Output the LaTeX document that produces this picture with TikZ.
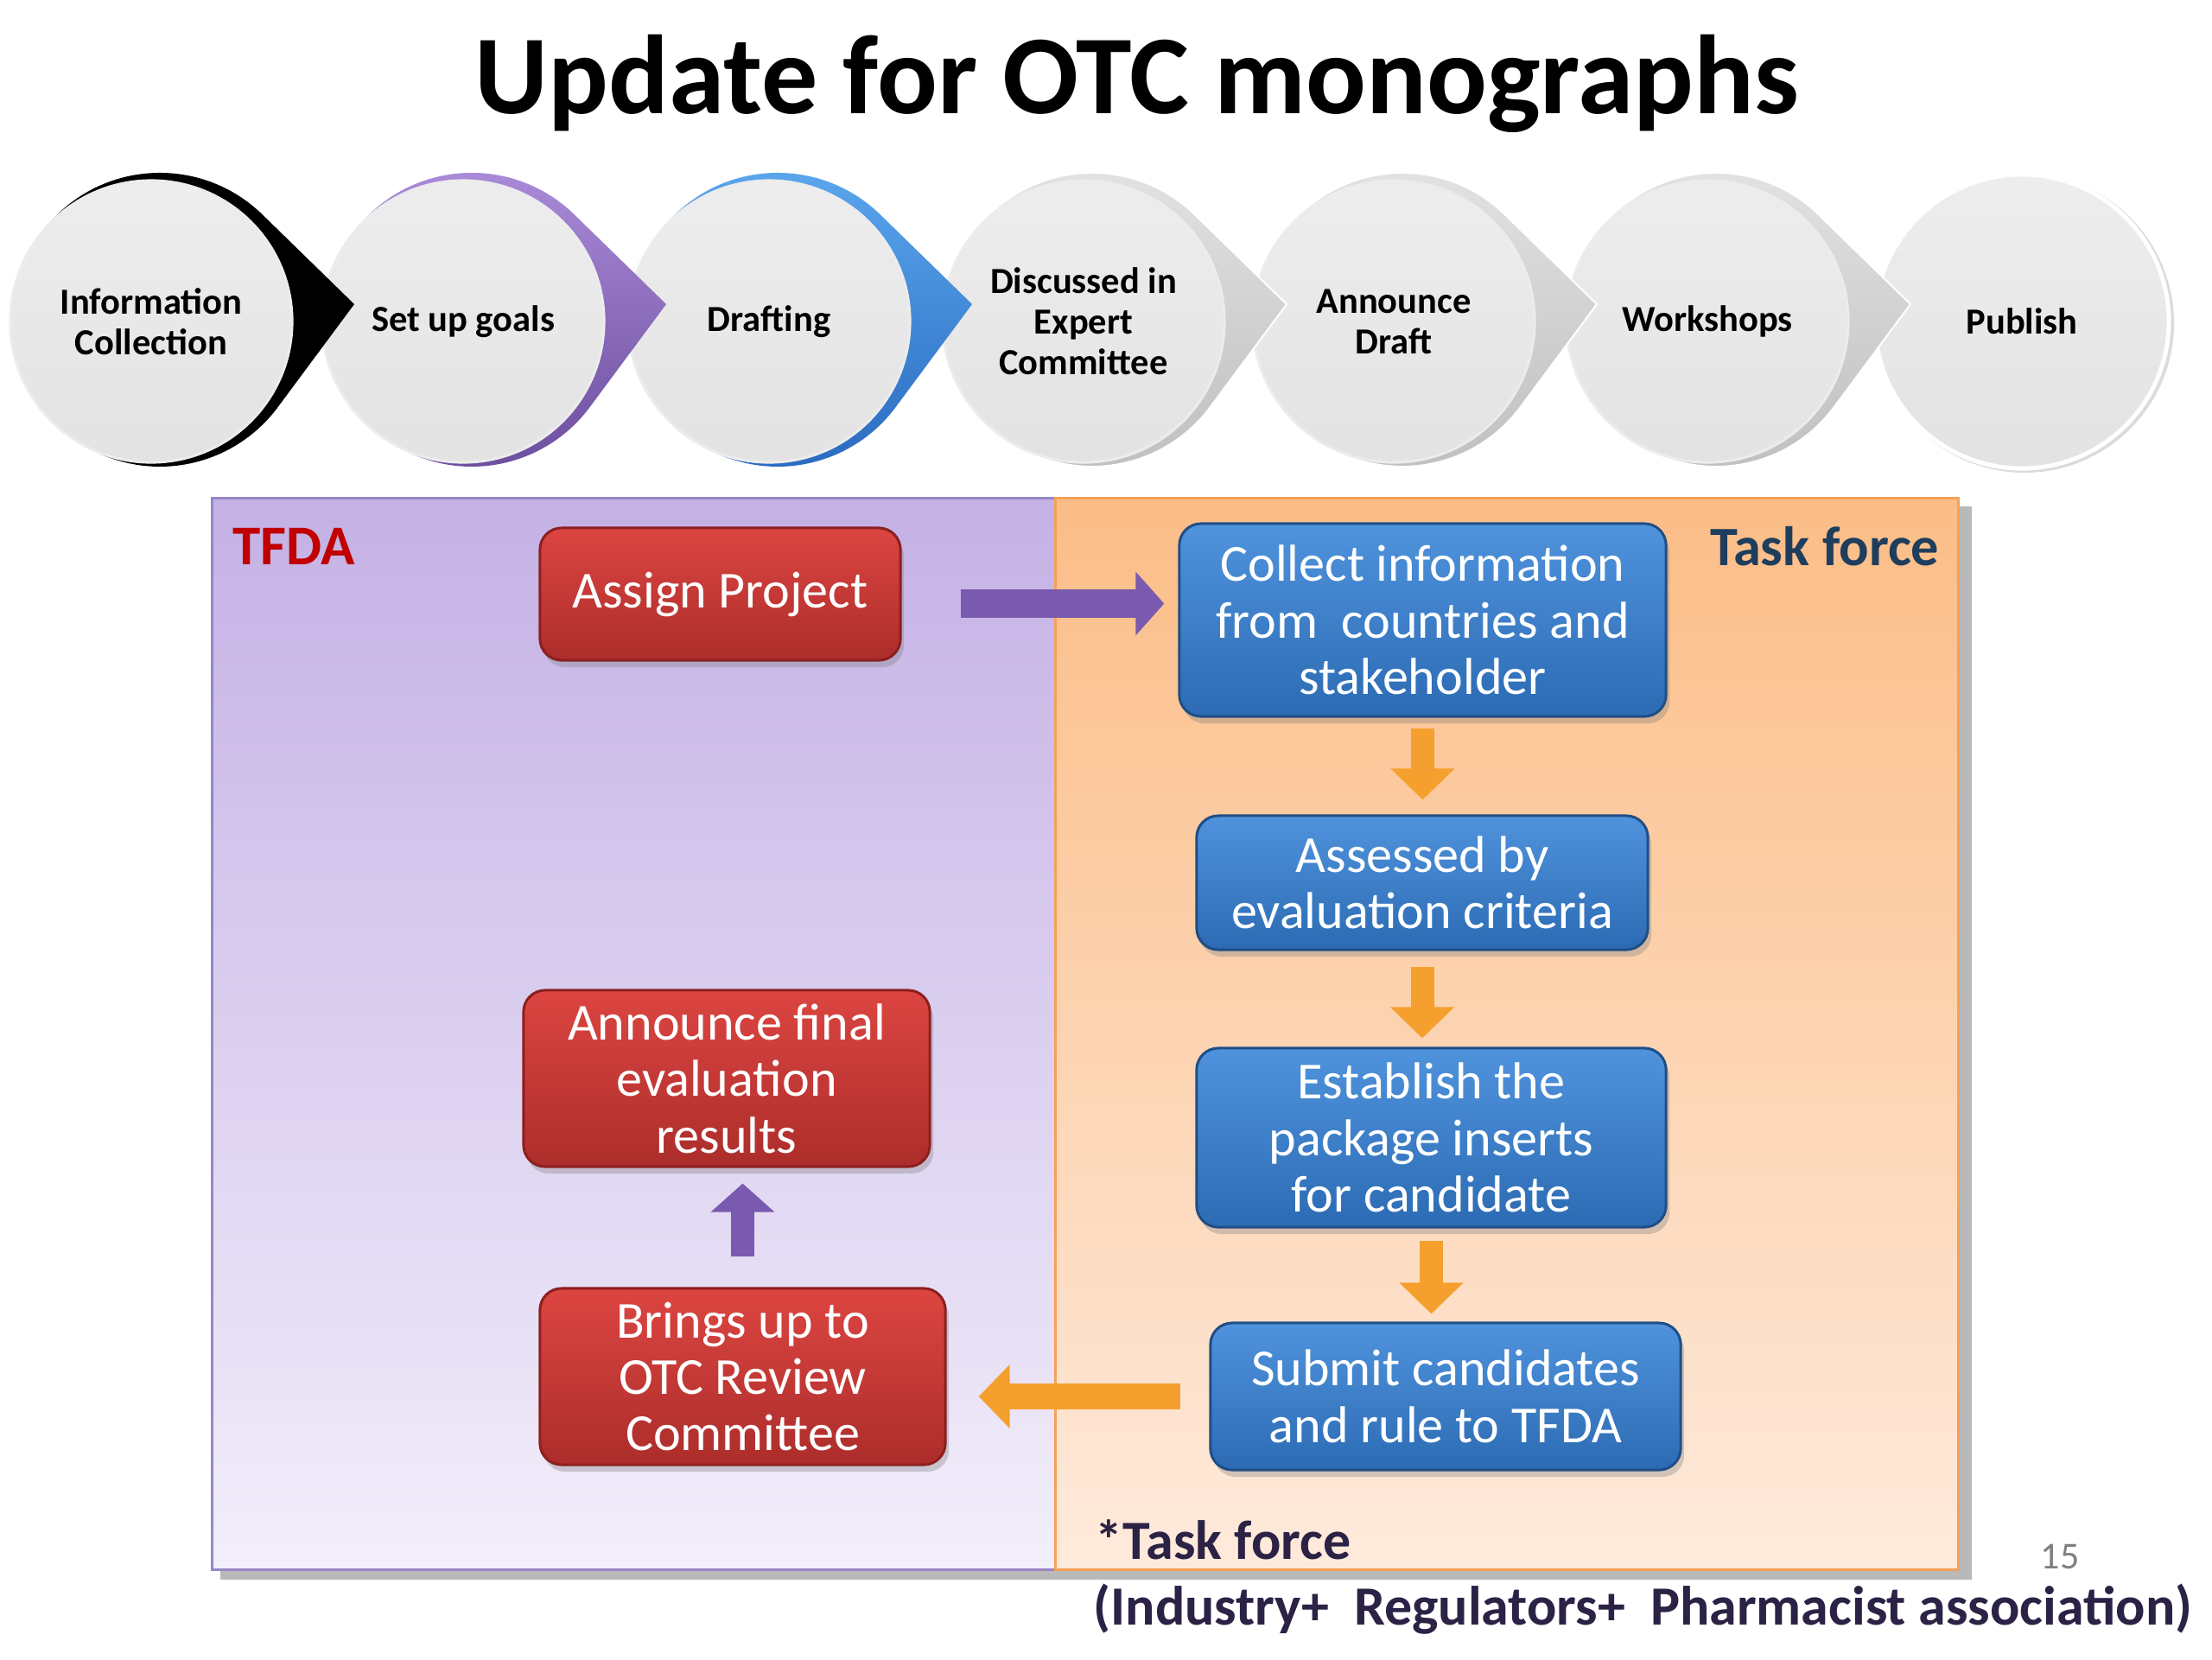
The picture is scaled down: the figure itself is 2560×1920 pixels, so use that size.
\documentclass[tikz,border=0pt]{standalone}
\usepackage{fontspec}
\setmainfont{Carlito}
\usetikzlibrary{shadows,arrows.meta}
\definecolor{tfred}{HTML}{C00000}
\definecolor{tfnavy}{HTML}{1F3D5C}
\definecolor{tfdark}{HTML}{2B2245}
\definecolor{redtop}{HTML}{DC4541}
\definecolor{redbot}{HTML}{AC2D2B}
\definecolor{redline}{HTML}{8C1F1F}
\definecolor{bluetop}{HTML}{4F93DC}
\definecolor{bluebot}{HTML}{2C6BB4}
\definecolor{blueline}{HTML}{1F4E86}
\definecolor{purparr}{HTML}{7A5AAE}
\definecolor{orarr}{HTML}{F5A02E}
\definecolor{lavtop}{HTML}{C4B1E5}
\definecolor{lavbot}{HTML}{F2EEFA}
\definecolor{lavline}{HTML}{9787C9}
\definecolor{ortop}{HTML}{FBBD87}
\definecolor{orbot}{HTML}{FEEADC}
\definecolor{orline}{HTML}{F6A058}
\definecolor{purtop}{HTML}{AB8DDA}
\definecolor{purbot}{HTML}{6C4D9E}
\definecolor{bltop}{HTML}{5CA8EE}
\definecolor{blbot}{HTML}{2A6AC0}
\newcommand\tear[3]{%
  \path[#3] (#1+235,#2-20) -- (#1+128.7,#2-123.7)
    arc[start angle=-45.7, end angle=-323.5, radius=170] -- cycle;}
\begin{document}
\begin{tikzpicture}[x=0.01cm,y=-0.01cm,
  stepcircle/.style={circle, minimum size=3.26cm, inner sep=0pt, align=center,
    top color=gray!14, bottom color=gray!22, draw=white!85!gray, line width=0.03cm,
    font=\bfseries\fontsize{12.1}{13.4}\selectfont},
  greytear/.style={top color=gray!22, bottom color=gray!50, draw=white, line width=0.02cm},
  boxbase/.style={rounded corners=0.25cm, line width=0.03cm, text=white, align=center,
    inner sep=0pt, font=\fontsize{17.1}{18.6}\selectfont,
    drop shadow={opacity=0.35, shadow xshift=0.04cm, shadow yshift=-0.08cm}},
  redbox/.style={boxbase, draw=redline, top color=redtop, bottom color=redbot},
  bluebox/.style={boxbase, draw=blueline, top color=bluetop, bottom color=bluebot},
  purarrow/.style={draw=purparr, line width=0.33cm, -{Triangle[length=0.33cm,width=0.72cm]}},
  orarrow/.style={draw=orarr, line width=0.27cm, -{Triangle[length=0.36cm,width=0.72cm]}},
  lbl/.style={inner sep=0pt, font=\bfseries\fontsize{18.2}{20}\selectfont}
]
\useasboundingbox (0,0) rectangle (2560,1920);
\fill[white] (0,0) rectangle (2560,1920);

% title
\node[anchor=base, inner sep=0pt, font=\bfseries\fontsize{37}{44}\selectfont] (title) at (1316,131) {Update for OTC monographs};

% process row, drawn right to left so each tail lies over the next circle
\fill[gray!28] (2343,374) circle[radius=173];
\node[stepcircle, minimum size=3.4cm, draw=white, line width=0.05cm] (c7) at (2340,372) {Publish};
\tear{1976}{372}{greytear}
\node[stepcircle] (c6) at (1976,372) {Workshops};
\tear{1613}{372}{greytear}
\node[stepcircle] (c5) at (1613,372) {Announce\\Draft};
\tear{1254}{372}{greytear}
\node[stepcircle] (c4) at (1254,372) {Discussed in\\Expert\\Committee};
\tear{890}{372}{top color=bltop, bottom color=blbot}
\node[stepcircle] (c3) at (890,372) {Drafting};
\tear{536}{372}{top color=purtop, bottom color=purbot}
\node[stepcircle] (c2) at (536,372) {Set up goals};
\tear{175}{372}{fill=black}
\node[stepcircle] (c1) at (175,372) {Information\\Collection};

% panels
\fill[gray!55] (255,586) rectangle (2282,1828);
\shade[top color=lavtop, bottom color=lavbot] (245,576) rectangle (1221,1816);
\draw[lavline, line width=0.03cm] (245,576) rectangle (1221,1816);
\shade[top color=ortop, bottom color=orbot] (1221,576) rectangle (2266,1816);
\draw[orline, line width=0.03cm] (1221,576) rectangle (2266,1816);

\node[lbl, anchor=west, text=tfred, font=\bfseries\fontsize{18.5}{22}\selectfont] (tfda) at (269,632) {TFDA};
\node[lbl, anchor=east, text=tfnavy, font=\bfseries\fontsize{18.3}{22}\selectfont] (tf) at (2245,632) {Task force};

% boxes
\node[redbox, minimum width=4.17cm, minimum height=1.53cm] (ap) at (833.5,687.5) {Assign Project};
\node[redbox, minimum width=4.70cm, minimum height=2.04cm] (af) at (841,1248) {Announce final\\evaluation\\results};
\node[redbox, minimum width=4.69cm, minimum height=2.04cm] (br) at (859.5,1593) {Brings up to\\OTC Review\\Committee};
\node[bluebox, minimum width=5.63cm, minimum height=2.23cm] (ci) at (1646.5,717.5) {Collect information\\from\ \ countries and\\stakeholder};
\node[bluebox, minimum width=5.22cm, minimum height=1.55cm] (as) at (1646,1021.5) {Assessed by\\evaluation criteria};
\node[bluebox, minimum width=5.43cm, minimum height=2.07cm] (eb) at (1656.5,1316.5) {Establish the\\package inserts\\for candidate};
\node[bluebox, minimum width=5.44cm, minimum height=1.70cm] (sb) at (1673,1616) {Submit candidates\\and rule to TFDA};

% arrows
\draw[purarrow, shorten <=0.68cm, shorten >=0.16cm] ([yshift=-0.11cm]ap.east) -- ([yshift=-0.11cm]ap.east -| ci.west);
\draw[orarrow, shorten <=0.12cm, shorten >=0.17cm] (ci.south) -- (ci.south |- as.north);
\draw[orarrow, shorten <=0.18cm, shorten >=0.10cm] (as.south) -- (as.south |- eb.north);
\draw[orarrow, shorten <=0.14cm, shorten >=0.09cm] (eb.south) -- (eb.south |- sb.north);
\draw[orarrow, line width=0.30cm, shorten <=0.33cm, shorten >=0.37cm] (sb.west) -- (sb.west -| br.east);
\draw[purarrow, line width=0.27cm, shorten <=0.35cm, shorten >=0.18cm] (br.north) -- (br.north |- af.south);

% notes
\node[lbl, anchor=west, text=tfdark] (note1) at (1267,1782) {*Task force};
\node[lbl, anchor=west, text=tfdark] (note2) at (1265,1862) {(Industry+\ \ Regulators+\ \ Pharmacist association)};
\node[inner sep=0pt, text=gray, font=\fontsize{12.5}{14}\selectfont] (pg) at (2384,1801) {15};
\end{tikzpicture}
\end{document}
